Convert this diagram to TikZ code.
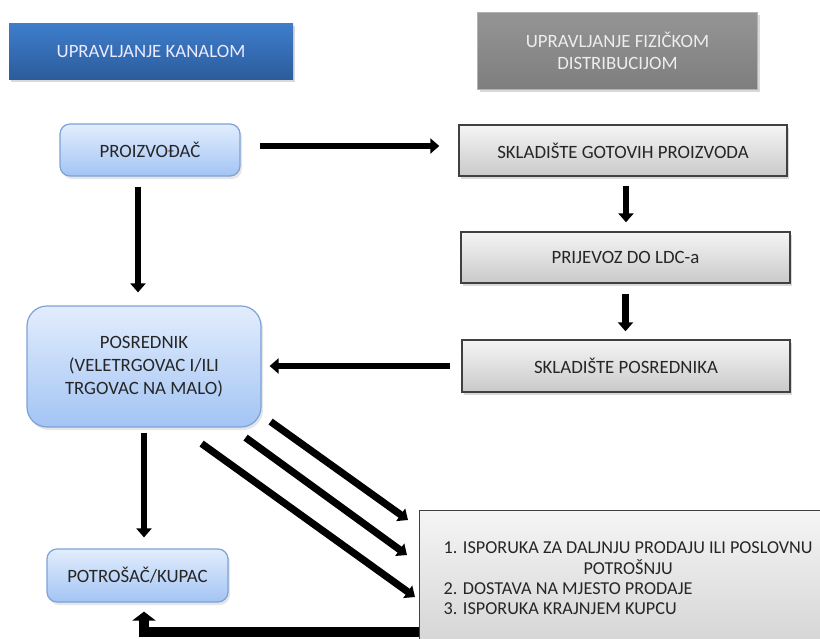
\documentclass[tikz,border=0pt]{standalone}
\usepackage{fontspec}
\setmainfont{Carlito}
\usetikzlibrary{arrows.meta,calc,shadows}
\definecolor{kanalgore}{HTML}{3E7ECC}
\definecolor{kanaldolje}{HTML}{2C5C9C}
\definecolor{fizgore}{HTML}{959595}
\definecolor{fizdolje}{HTML}{7E7E7E}
\definecolor{sudionikgore}{HTML}{E2EDFD}
\definecolor{sudionikdolje}{HTML}{A3C4F4}
\definecolor{sudionikrub}{HTML}{7CA2D6}
\tikzset{every node/.style={font=\fontsize{9.4}{10}\selectfont,text=black!85},every path/.style={line join=miter},
  naslov/.style={inner sep=0pt,align=center,font=\fontsize{9.4}{11}\selectfont,drop shadow={opacity=0.3,shadow xshift=1pt,shadow yshift=-1.5pt}},
  sudionik/.style={draw=sudionikrub,line width=0.6pt,rounded corners=5pt,top color=sudionikgore,bottom color=sudionikdolje,align=center,font=\fontsize{9.4}{11.5}\selectfont,drop shadow={opacity=0.2,shadow xshift=1pt,shadow yshift=-1.5pt}},
  aktivnost/.style={draw=black!75,line width=0.7pt,top color=gray!8,bottom color=gray!42,drop shadow={opacity=0.3,shadow xshift=1pt,shadow yshift=-1.5pt}},
  tok/.style={line width=3.3pt,-{Triangle[width=7.5pt,length=4.5pt]}}}

\begin{document}
\begin{tikzpicture}[x=0.5pt,y=-0.5pt]
  \useasboundingbox (0,0) rectangle (820,638);
  \node[naslov,top color=kanalgore,bottom color=kanaldolje,text=white!92!blue,minimum width=142pt,minimum height=28pt] (kanal) at (151,51) {UPRAVLJANJE KANALOM};
  \node[naslov,draw=gray!60,line width=0.4pt,top color=fizgore,bottom color=fizdolje,text=white!93!black,minimum width=140pt,minimum height=38.5pt] (fizicka) at (617.5,50.5) {UPRAVLJANJE FIZIČKOM\\DISTRIBUCIJOM};
  \node[sudionik,minimum width=90pt,minimum height=26pt] (proizvodac) at (150,150) {PROIZVOĐAČ};
  \node[sudionik,rounded corners=10pt,minimum width=117pt,minimum height=60.5pt] (posrednik) at (144,366.5) {POSREDNIK\\(VELETRGOVAC I/ILI\\TRGOVAC NA MALO)};
  \node[sudionik,minimum width=90.5pt,minimum height=26.5pt] (potrosac) at (137.5,575.5) {POTROŠAČ/KUPAC};
  \node[aktivnost,minimum width=164pt,minimum height=25.5pt] (gotovi) at (623,150.5) {SKLADIŠTE GOTOVIH PROIZVODA};
  \node[aktivnost,minimum width=164.5pt,minimum height=25.5pt] (prijevoz) at (625.5,257.5) {PRIJEVOZ DO LDC-a};
  \node[aktivnost,minimum width=164pt,minimum height=26pt] (skladposr) at (626,366) {SKLADIŠTE POSREDNIKA};
  \node[aktivnost,anchor=north west,inner xsep=12pt,inner ysep=14.5pt,text depth=40pt,font=\fontsize{9.1}{10}\selectfont] (isporuka) at (419,510)
    {\begin{tabular}{@{}l@{}}1. ISPORUKA ZA DALJNJU PRODAJU ILI POSLOVNU\\\multicolumn{1}{@{}c@{}}{POTROŠNJU}\\2. DOSTAVA NA MJESTO PRODAJE\\3. ISPORUKA KRAJNJEM KUPCU\end{tabular}};
  \draw[tok,shorten <=9.5pt,shorten >=9.5pt] ([yshift=2pt]proizvodac.east) -- ([yshift=2pt]proizvodac.east -| gotovi.west);
  \draw[tok,shorten <=5pt,shorten >=6.5pt] ([xshift=-6pt]proizvodac.south) -- ([xshift=-6pt]proizvodac.south |- posrednik.north);
  \draw[tok,shorten <=4.5pt,shorten >=4.5pt] ([xshift=1.5pt]gotovi.south) -- ([xshift=1.5pt]gotovi.south |- prijevoz.north);
  \draw[tok,shorten <=5pt,shorten >=4pt] (prijevoz.south) -- (prijevoz.south |- skladposr.north);
  \draw[tok,shorten <=5.5pt,shorten >=4pt] (skladposr.west) -- (skladposr.west -| posrednik.east);
  \draw[tok,shorten <=2.5pt,shorten >=5.5pt] (posrednik.south) -- (posrednik.south |- potrosac.north);
  \draw[tok,line width=3.6pt] ($(posrednik.south east)+(9,-6)$) -- ($(isporuka.north west)+(-11,10)$);
  \draw[tok,line width=3.6pt] ($(posrednik.south east)+(-16,10)$) -- ($(isporuka.north west)+(-12,45)$);
  \draw[tok,line width=3.6pt] ($(posrednik.south east)+(-60,16)$) -- ($(isporuka.north west)+(-4,87)$);
  \draw[line width=5pt,-{Triangle[width=11.5pt,length=4.5pt]},shorten >=4.5pt] ($(isporuka.north west)+(0,122)$) -| ([xshift=3.25pt]potrosac.south);
\end{tikzpicture}
\end{document}
